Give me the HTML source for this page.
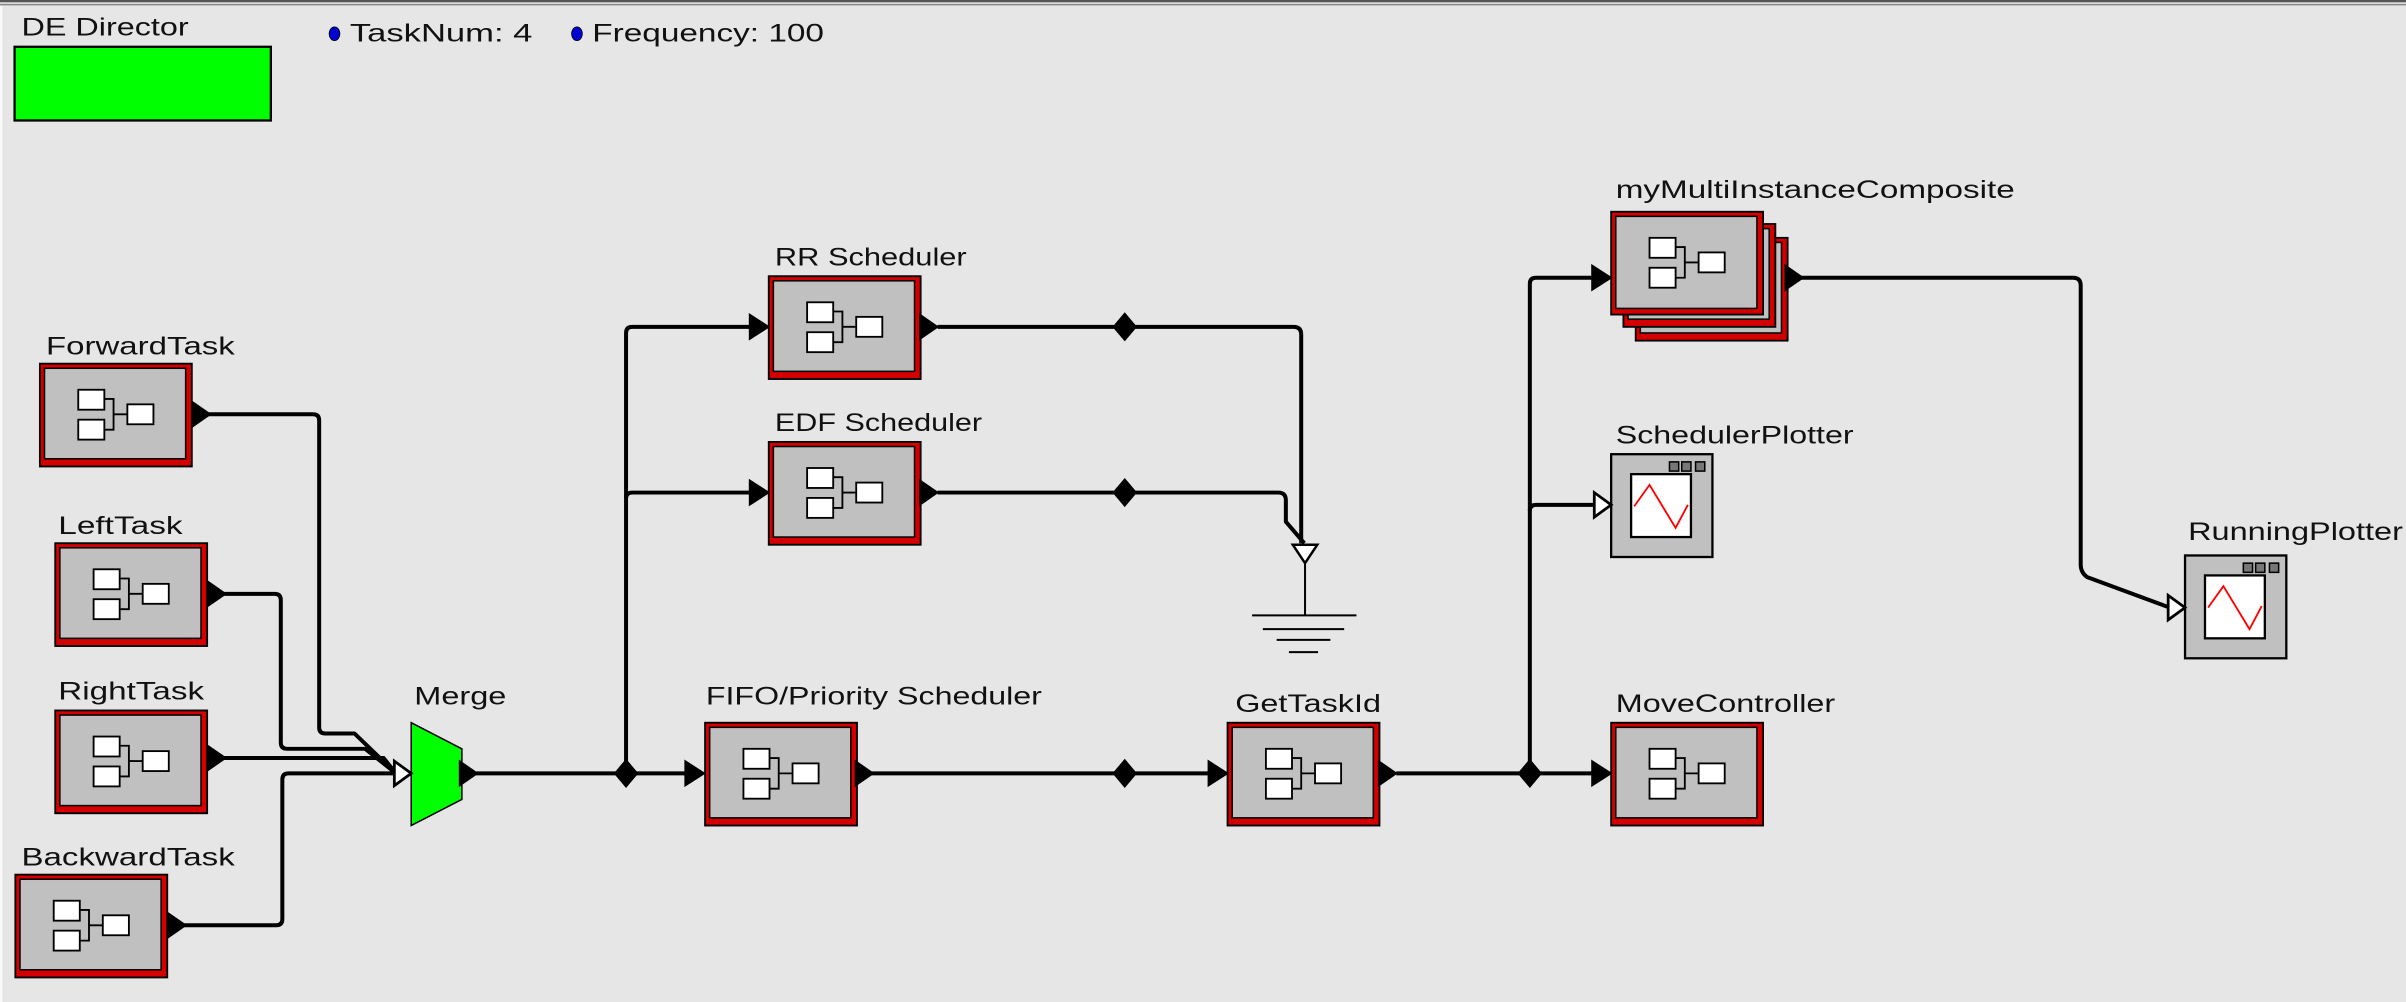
<!DOCTYPE html>
<html><head><meta charset="utf-8"><style>
html,body{margin:0;padding:0;background:#e6e6e6;}
svg{display:block}
text{font-family:"Liberation Sans",sans-serif;font-size:16.5px;fill:#111}
</style></head><body>
<svg width="2406" height="1002" viewBox="0 0 1568 653" preserveAspectRatio="none" xmlns="http://www.w3.org/2000/svg">
<defs>
<g id="icon">
<rect x="25" y="17" width="17" height="13" fill="#fff" stroke="#000" stroke-width="1.2"/>
<rect x="25" y="36.5" width="17" height="13" fill="#fff" stroke="#000" stroke-width="1.2"/>
<rect x="57" y="26.5" width="17" height="13" fill="#fff" stroke="#000" stroke-width="1.2"/>
<path d="M42 23 H48 V43 H42 M48 33 H57" fill="none" stroke="#000" stroke-width="1.2"/>
</g>
<g id="actor">
<rect x="0" y="0" width="99" height="67" fill="#d40000" stroke="#000" stroke-width="1.2"/>
<rect x="3" y="3" width="92" height="59" fill="#c0c0c0" stroke="#000" stroke-width="1"/>
<use href="#icon"/>
</g>
<g id="plot">
<rect x="0" y="0" width="66" height="67" fill="#c0c0c0" stroke="#000" stroke-width="1.5"/>
<rect x="38" y="5" width="6" height="6" fill="#777" stroke="#000" stroke-width="1"/>
<rect x="46" y="5" width="6" height="6" fill="#777" stroke="#000" stroke-width="1"/>
<rect x="55" y="5" width="6" height="6" fill="#777" stroke="#000" stroke-width="1"/>
<rect x="13" y="13" width="39" height="41" fill="#fff" stroke="#000" stroke-width="1.5"/>
<polyline points="15,34 25,20 42,48 50,33" fill="none" stroke="#f00" stroke-width="1.2"/>
</g>
<g id="inA"><path d="M-14 -9 L0 0 L-14 9 Z" fill="#000"/></g>
<g id="outA"><path d="M0 -9 L13 0 L0 9 Z" fill="#000"/></g>
<g id="openA"><path d="M-11 -8 L0 0 L-11 8 Z" fill="#fff" stroke="#000" stroke-width="1.8"/></g>
<g id="dia"><path d="M0 -9.5 L8 0 L0 9.5 L-8 0 Z" fill="#000"/></g>
</defs>
<rect x="0" y="0" width="1568" height="653" fill="#e6e6e6"/>
<rect x="0" y="0" width="1568" height="1.5" fill="#555"/>
<rect x="0" y="2.5" width="1568" height="1" fill="#888"/>
<rect x="0" y="4" width="1.5" height="649" fill="#fafafa"/>

<text x="14" y="23" textLength="109" lengthAdjust="spacingAndGlyphs">DE Director</text>
<rect x="9.5" y="30.5" width="167" height="48" fill="#00ff00" stroke="#000" stroke-width="1.5"/>
<ellipse cx="218" cy="22" rx="3.5" ry="4.5" fill="#0000d0" stroke="#000" stroke-width="0.5"/>
<text x="228" y="27" textLength="119" lengthAdjust="spacingAndGlyphs">TaskNum: 4</text>
<ellipse cx="376" cy="22" rx="3.5" ry="4.5" fill="#0000d0" stroke="#000" stroke-width="0.5"/>
<text x="386" y="27" textLength="151" lengthAdjust="spacingAndGlyphs">Frequency: 100</text>

<g fill="none" stroke="#000" stroke-width="2.6" stroke-linejoin="round">
<path d="M130 270 H204 Q208 270 208 274 V474 Q208 478 212 478 H231 L258 504"/>
<path d="M140 387 H179 Q183 387 183 391 V484 Q183 488 187 488 H238 L258 504"/>
<path d="M140 494 H250 L258 504"/>
<path d="M114 603 H180 Q184 603 184 599 V508 Q184 504 188 504 H258"/>
<path d="M310 504 H449"/>
<path d="M408 504 V217 Q408 213 412 213 H491"/>
<path d="M408 325 Q408 321 412 321 H491"/>
<path d="M611 213 H843 Q848 213 848 218 V354"/>
<path d="M611 321 H833 Q838 321 838 326 V340 L850 354"/>
<path d="M568 504 H790"/>
<path d="M910 504 H1040"/>
<path d="M997 504 V185 Q997 181 1001 181 H1040"/>
<path d="M997 333 Q997 329 1001 329 H1040"/>
<path d="M1170 181 H1351 Q1356 181 1356 186 V368 Q1356 373 1360 376 L1414 396"/>
</g>
<g stroke="#000" stroke-width="1.3">
<line x1="850.5" y1="362" x2="850.5" y2="401"/>
<line x1="816" y1="401" x2="884" y2="401"/>
<line x1="823" y1="410" x2="876" y2="410"/>
<line x1="832" y1="417" x2="867" y2="417"/>
<line x1="840" y1="425" x2="859" y2="425"/>
</g>
<path d="M842.5 355 L858.5 355 L850.5 367 Z" fill="#fff" stroke="#000" stroke-width="1.6"/>

<use href="#dia" x="408" y="504"/>
<use href="#dia" x="733" y="213"/>
<use href="#dia" x="733" y="321"/>
<use href="#dia" x="733" y="504"/>
<use href="#dia" x="997" y="504"/>

<text x="30" y="231" textLength="123" lengthAdjust="spacingAndGlyphs">ForwardTask</text>
<use href="#actor" x="26" y="237"/>
<text x="38" y="348" textLength="81" lengthAdjust="spacingAndGlyphs">LeftTask</text>
<use href="#actor" x="36" y="354"/>
<text x="38" y="456" textLength="95" lengthAdjust="spacingAndGlyphs">RightTask</text>
<use href="#actor" x="36" y="463"/>
<text x="14" y="564" textLength="139" lengthAdjust="spacingAndGlyphs">BackwardTask</text>
<use href="#actor" x="10" y="570"/>
<use href="#outA" x="125" y="270"/>
<use href="#outA" x="135" y="387"/>
<use href="#outA" x="135" y="494"/>
<use href="#outA" x="109" y="603"/>

<text x="270" y="459" textLength="60" lengthAdjust="spacingAndGlyphs">Merge</text>
<path d="M268 471 L301 488 L301 521 L268 538 Z" fill="#00ff00" stroke="#000" stroke-width="1"/>
<use href="#openA" x="268" y="504"/>
<use href="#outA" x="299" y="504"/>

<text x="460" y="459" textLength="219" lengthAdjust="spacingAndGlyphs">FIFO/Priority Scheduler</text>
<use href="#actor" x="459.5" y="471"/>
<use href="#inA" x="460" y="504"/>
<use href="#outA" x="557" y="504"/>

<text x="505" y="173" textLength="125" lengthAdjust="spacingAndGlyphs">RR Scheduler</text>
<use href="#actor" x="501" y="180"/>
<use href="#inA" x="502" y="213"/>
<use href="#outA" x="599" y="213"/>

<text x="505" y="281" textLength="135" lengthAdjust="spacingAndGlyphs">EDF Scheduler</text>
<use href="#actor" x="501" y="288"/>
<use href="#inA" x="502" y="321"/>
<use href="#outA" x="599" y="321"/>

<text x="805" y="464" textLength="95" lengthAdjust="spacingAndGlyphs">GetTaskId</text>
<use href="#actor" x="800" y="471"/>
<use href="#inA" x="801" y="504"/>
<use href="#outA" x="898" y="504"/>

<text x="1053" y="464" textLength="143" lengthAdjust="spacingAndGlyphs">MoveController</text>
<use href="#actor" x="1050" y="471"/>
<use href="#inA" x="1051" y="504"/>

<text x="1053" y="129" textLength="260" lengthAdjust="spacingAndGlyphs">myMultiInstanceComposite</text>
<use href="#actor" x="1066" y="155"/>
<use href="#actor" x="1058" y="146"/>
<rect x="1050" y="138" width="99" height="67" fill="#d40000" stroke="#000" stroke-width="1.2"/>
<rect x="1053" y="141" width="92" height="60" fill="#c0c0c0" stroke="#000" stroke-width="1"/>
<use href="#icon" x="1050" y="138"/>
<use href="#inA" x="1051" y="181"/>
<use href="#outA" x="1163" y="181"/>

<text x="1053" y="289" textLength="155" lengthAdjust="spacingAndGlyphs">SchedulerPlotter</text>
<use href="#plot" x="1050" y="296"/>
<use href="#openA" x="1050" y="329"/>

<text x="1426" y="352" textLength="140" lengthAdjust="spacingAndGlyphs">RunningPlotter</text>
<use href="#plot" x="1424" y="362"/>
<use href="#openA" x="1424" y="396"/>
</svg>
</body></html>
